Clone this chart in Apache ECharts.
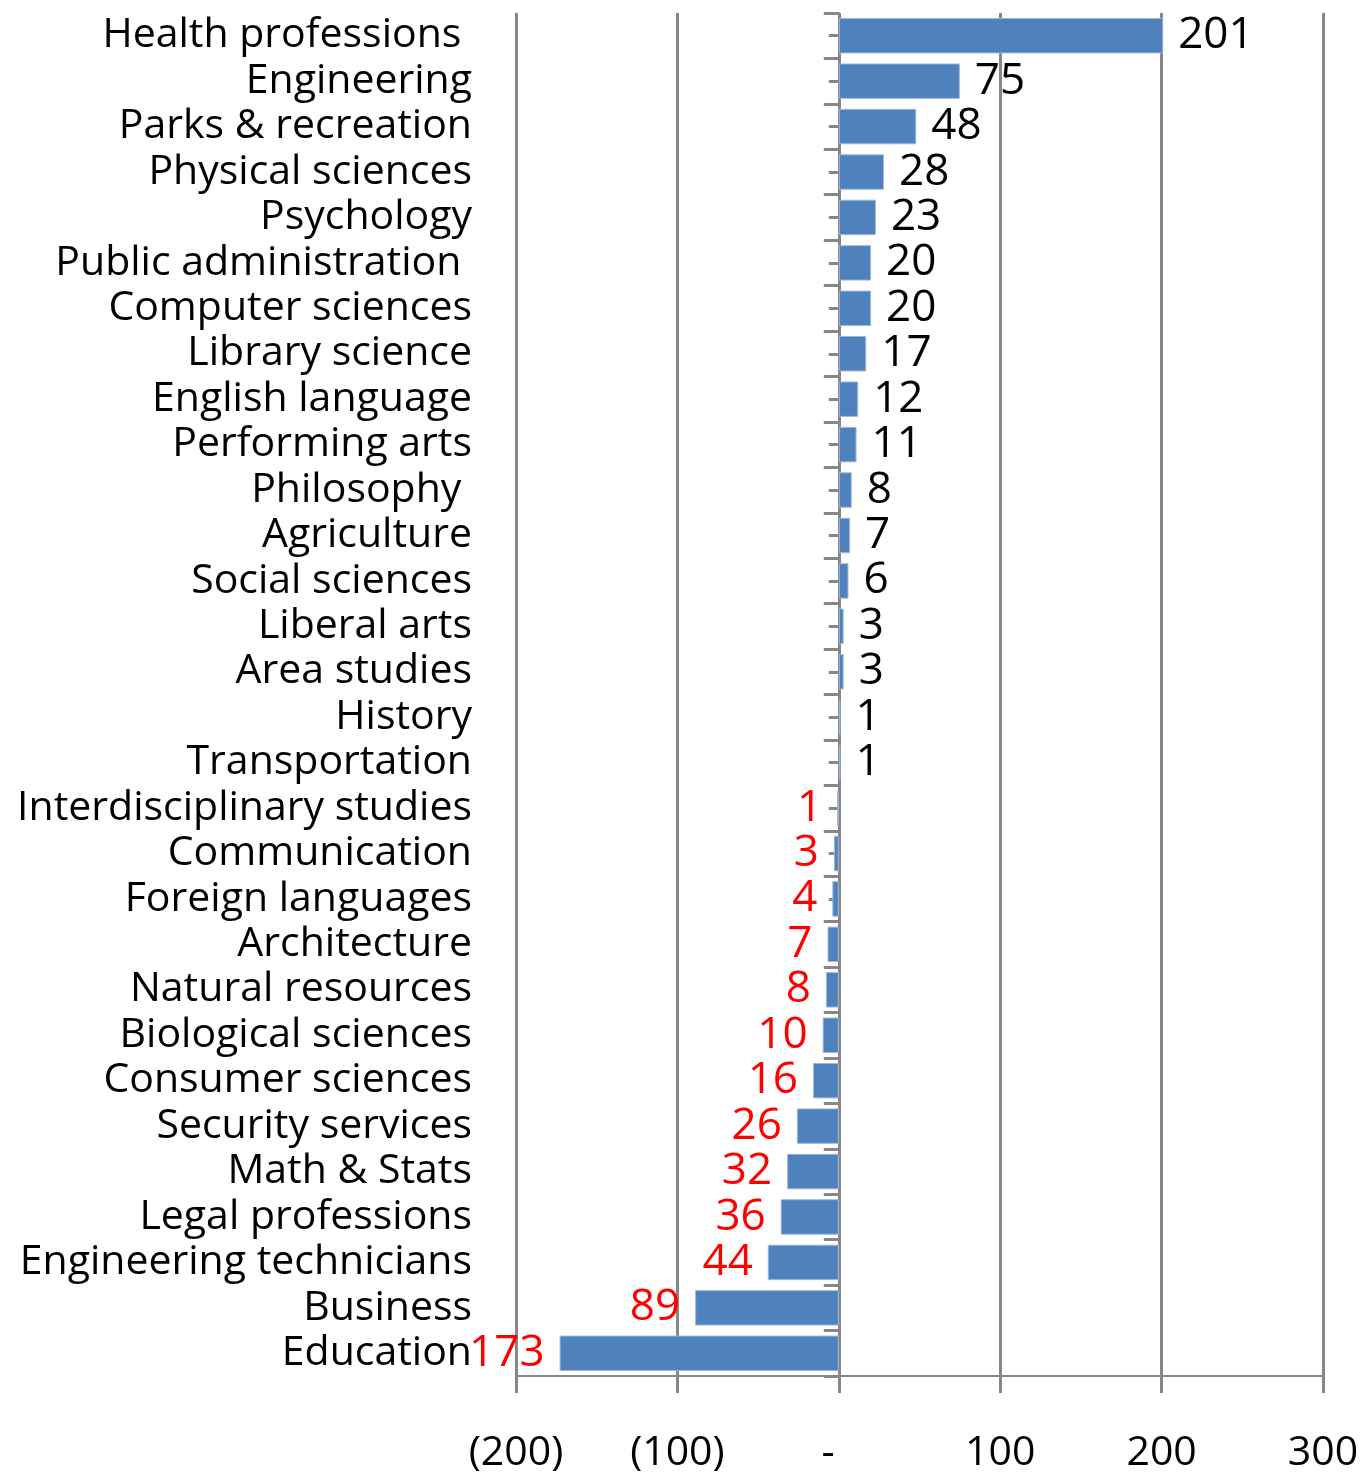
<!DOCTYPE html>
<html>
<head>
<meta charset="utf-8">
<script src="https://cdn.jsdelivr.net/npm/echarts@6/dist/echarts.min.js"></script>
<style>
html,body{margin:0;padding:0;background:#fff;}
#chart{width:1362px;height:1477px;}
</style>
</head>
<body>
<div id="chart"></div>
<script>
const categories = [
  'Health professions ', 'Engineering', 'Parks & recreation', 'Physical sciences', 'Psychology',
  'Public administration ', 'Computer sciences', 'Library science', 'English language', 'Performing arts',
  'Philosophy ', 'Agriculture', 'Social sciences', 'Liberal arts', 'Area studies',
  'History', 'Transportation', 'Interdisciplinary studies', 'Communication', 'Foreign languages',
  'Architecture', 'Natural resources', 'Biological sciences', 'Consumer sciences', 'Security services',
  'Math & Stats', 'Legal professions', 'Engineering technicians', 'Business', 'Education'
];
const values = [
  201, 75, 48, 28, 23,
  20, 20, 17, 12, 11,
  8, 7, 6, 3, 3,
  1, 1, -1, -3, -4,
  -7, -8, -10, -16, -26,
  -32, -36, -44, -89, -173
];
const tickValues = [-200, -100, 0, 100, 200, 300];
const tickLabels = ['(200)', '(100)', '-  ', '100', '200', '300'];

const FONT = "'Open Sans', sans-serif";
const GRID = { left: 516, right: 39, top: 13, bottom: 101 };
const W = 1362 - GRID.left - GRID.right;
const xMin = -200, xMax = 300;
const zeroOffset = W * (0 - xMin) / (xMax - xMin);
const GRAY = '#878787';

const chart = echarts.init(document.getElementById('chart'));
const data = values.map(v => ({
  value: v,
  label: v >= 0
    ? { position: 'right', color: '#000' }
    : { position: 'left', color: '#FF0000' }
}));

chart.setOption({
  animation: false,
  grid: GRID,
  xAxis: {
    type: 'value', min: xMin, max: xMax, interval: 100,
    axisLine: { show: true, lineStyle: { color: GRAY, width: 2 } },
    axisTick: { show: true, length: 17, lineStyle: { color: GRAY, width: 3 } },
    splitLine: { show: true, lineStyle: { color: GRAY, width: 3 } },
    axisLabel: {
      fontSize: 41, fontFamily: FONT, color: '#000', margin: 57,
      formatter: v => { const i = tickValues.indexOf(v); return i >= 0 ? tickLabels[i] : ''; }
    }
  },
  yAxis: [
    {
      type: 'category', position: 'left', inverse: true, data: categories,
      axisLine: { show: false }, axisTick: { show: false },
      axisLabel: { interval: 0, fontSize: 41, fontFamily: FONT, color: '#000', margin: 44 }
    },
    {
      type: 'category', position: 'left', inverse: true, data: categories, offset: -zeroOffset,
      axisLine: { show: true, onZero: false, lineStyle: { color: GRAY, width: 2 } },
      axisTick: { show: true, interval: 0, length: 15, alignWithLabel: false, lineStyle: { color: GRAY, width: 3 } },
      axisLabel: { show: false }
    },
    {
      type: 'category', position: 'left', inverse: true, data: categories, offset: -zeroOffset,
      axisLine: { show: false, onZero: false },
      axisTick: { show: true, interval: 0, length: 10, alignWithLabel: true, lineStyle: { color: GRAY, width: 3 } },
      axisLabel: { show: false }
    }
  ],
  series: [{
    type: 'bar', yAxisIndex: 0, data: data, barCategoryGap: '22%',
    itemStyle: { color: '#4F81BD', borderColor: '#9fb8d9', borderWidth: 1 },
    label: {
      show: true, fontSize: 44, fontFamily: FONT, distance: 15,
      formatter: p => String(Math.abs(p.value))
    }
  }]
});
</script>
</body>
</html>
